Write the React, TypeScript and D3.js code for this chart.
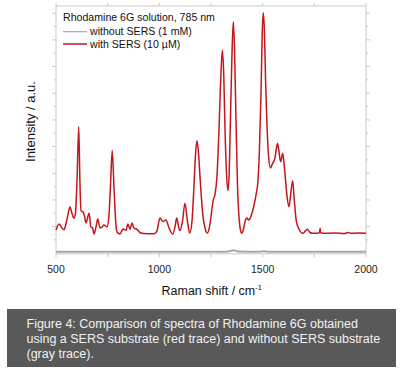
import React from "react";
import * as d3 from "d3";

// Raman shift (cm^-1) and intensity (a.u.)
const redShift = [500,515,524,539,548,558,568,577,587,594,602,610,616,621,631,638,645,660,669,677,684,694,702,713,723,732,747,756,764,772,781,788,795,810,824,839,848,858,868,877,892,906,926,955,979,989,1003,1018,1032,1047,1065,1076,1084,1093,1100,1112,1124,1136,1147,1158,1168,1175,1182,1189,1199,1211,1221,1232,1243,1252,1261,1269,1279,1288,1296,1305,1312,1318,1325,1332,1338,1344,1352,1358,1364,1371,1378,1386,1393,1398,1407,1415,1423,1432,1439,1448,1458,1468,1477,1484,1492,1498,1503,1509,1514,1521,1528,1538,1547,1559,1566,1572,1579,1587,1597,1603,1610,1617,1627,1634,1645,1653,1663,1676,1694,1705,1716,1729,1744,1768,1775,1778,1781,1802,1850,1898,1913,1927,1961,2000];
const redIntensity = [0.87,1.1,1.0,0.88,1.1,1.45,1.74,1.5,1.32,1.5,2.8,4.74,2.6,1.6,1.55,1.4,1.14,1.5,0.99,0.95,0.72,1.0,1.29,0.95,0.98,1.06,0.99,1.4,2.6,3.85,2.4,1.3,0.8,0.72,0.91,0.87,1.1,0.9,1.14,0.95,0.9,0.78,0.74,0.73,0.74,0.85,1.32,1.19,1.25,0.95,0.72,1.0,1.32,1.0,0.85,1.2,1.88,1.2,0.76,1.2,2.6,3.7,4.22,3.8,2.6,1.4,0.95,0.76,1.0,1.5,2.0,2.2,2.9,4.5,6.3,7.62,6.6,4.6,3.0,2.35,3.0,5.0,7.6,8.68,7.6,5.0,2.6,1.3,0.85,0.75,0.9,1.2,1.32,1.25,1.3,1.5,1.8,2.2,2.7,3.8,6.0,8.3,9.02,8.2,6.5,4.8,3.7,3.2,3.35,3.56,3.9,4.12,3.8,3.43,3.75,3.4,2.8,2.2,1.75,2.1,2.72,2.0,1.2,0.9,0.75,0.82,0.9,0.78,0.75,0.75,0.78,0.94,0.77,0.75,0.76,0.74,0.78,0.75,0.76,0.75];

const grayShift = [500,700,900,1100,1300,1340,1360,1380,1480,1505,1530,1700,2000];
const grayIntensity = [0.06,0.06,0.06,0.06,0.06,0.08,0.11,0.07,0.06,0.08,0.06,0.06,0.06];

const xTickLabels = [500, 1000, 1500, 2000];
const legendTitle = "Rhodamine 6G solution, 785 nm";
const legendItems = ["without SERS (1 mM)", "with SERS (10 µM)"];
const captionLines = [
  "Figure 4: Comparison of spectra of Rhodamine 6G obtained",
  "using a SERS substrate (red trace) and without SERS substrate",
  "(gray trace).",
];

const L = 56, R = 366, T = 6, B = 253.3;
const axisColor = "#c9c9c9";
const red = "#c4161c";
const gray = "#a8a8a8";
const font = "Arial, 'Liberation Sans', Helvetica, sans-serif";

export default function App() {
  if (typeof document !== "undefined") document.body.style.margin = "0";
  const x = d3.scaleLinear().domain([500, 2000]).range([L, R]);
  const y = d3.scaleLinear().domain([0, 9.27]).range([B, T]);
  const redPath = d3
    .line<number>()
    .x((_, i) => x(redShift[i]))
    .y((d) => y(d))
    .curve(d3.curveMonotoneX)(redIntensity) as string;
  const grayPath = d3
    .line<number>()
    .x((_, i) => x(grayShift[i]))
    .y((d) => y(d))
    .curve(d3.curveMonotoneX)(grayIntensity) as string;

  const xMajor = d3.range(500, 2001, 250);
  const yMajor = d3.range(1, 10, 1);
  const yMinor = d3.range(0.5, 9.3, 1);

  return (
    <svg width={400} height={371} style={{ position: "absolute", left: 0, top: 0, background: "#fff" }}>
      <rect x={0} y={0} width={400} height={371} fill="#fff" />
      {/* frame */}
      <g stroke={axisColor} strokeWidth={1} fill="none">
        <line x1={L} y1={T} x2={R} y2={T} />
        <line x1={L} y1={T} x2={L} y2={B} />
        <line x1={R} y1={T} x2={R} y2={B} />
        <line x1={L} y1={B + 0.5} x2={R} y2={B + 0.5} />
        {xMajor.map((v) => (
          <g key={"xt" + v}>
            <line x1={x(v)} x2={x(v)} y1={T} y2={T - 3} />
            <line x1={x(v)} x2={x(v)} y1={B} y2={B + 4} />
          </g>
        ))}
        {yMajor.map((v) => (
          <g key={"ym" + v}>
            <line x1={L} x2={L - 4} y1={y(v)} y2={y(v)} />
            <line x1={R} x2={R + 4} y1={y(v)} y2={y(v)} />
          </g>
        ))}
        {yMinor.map((v) => (
          <g key={"yn" + v}>
            <line x1={L} x2={L - 2} y1={y(v)} y2={y(v)} />
            <line x1={R} x2={R + 2} y1={y(v)} y2={y(v)} />
          </g>
        ))}
      </g>
      {/* traces */}
      <path d={grayPath} fill="none" stroke={gray} strokeWidth={2} />
      <path d={redPath} fill="none" stroke={red} strokeWidth={1.5} strokeLinejoin="round" />
      {/* tick labels */}
      {xTickLabels.map((v) => (
        <text key={"xl" + v} x={x(v)} y={273} textAnchor="middle" fontFamily={font} fontSize={10.5} fill="#222">
          {v}
        </text>
      ))}
      <text x={161.5} y={294.5} fontFamily={font} fontSize={12.5} fill="#111">
        Raman shift / cm<tspan dy={-5} fontSize={7.5}>-1</tspan>
      </text>
      <text transform={`translate(35,121.5) rotate(-90)`} textAnchor="middle" fontFamily={font} fontSize={13} fill="#111">
        Intensity / a.u.
      </text>
      {/* legend */}
      <text x={63} y={21.3} fontFamily={font} fontSize={10.6} fill="#111">{legendTitle}</text>
      <line x1={63} x2={87} y1={31.7} y2={31.7} stroke={gray} strokeWidth={1.2} />
      <text x={90} y={34.6} fontFamily={font} fontSize={10.6} fill="#111">{legendItems[0]}</text>
      <line x1={63} x2={87} y1={44} y2={44} stroke={red} strokeWidth={1.5} />
      <text x={90} y={47.8} fontFamily={font} fontSize={10.6} fill="#111">{legendItems[1]}</text>
      {/* caption */}
      <rect x={7} y={309} width={389} height={58} fill="#595959" />
      {captionLines.map((t, i) => (
        <text key={"c" + i} x={26.5} y={327.5 + i * 15.3} fontFamily={font} fontSize={12.5} fill="#f2f2f2">
          {t}
        </text>
      ))}
    </svg>
  );
}
